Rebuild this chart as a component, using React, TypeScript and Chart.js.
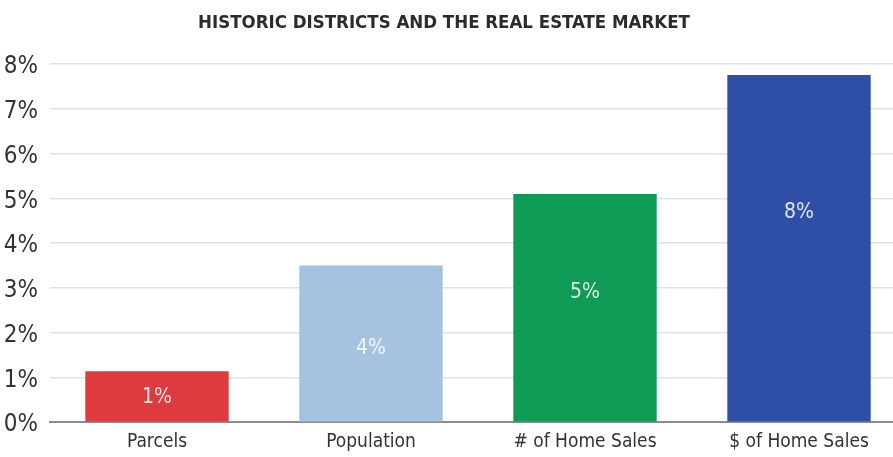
import React, { useEffect, useRef } from "react";
import { Chart, registerables } from "chart.js";

Chart.register(...registerables);

const chartTitle = "HISTORIC DISTRICTS AND THE REAL ESTATE MARKET";
const categories = ["Parcels", "Population", "# of Home Sales", "$ of Home Sales"];
const values = [1.14, 3.5, 5.1, 7.76];
const barColors = ["#de3b3f", "#a5c3e0", "#0f9a55", "#2f4ea5"];
// vertical position (in % units) where each bar's value label sits
const labelPositions = [0.54, 1.64, 2.89, 4.69];
const yMin = 0;
const yMax = 8;
const yStep = 1;

const FONT = "'DejaVu Sans Condensed', 'Liberation Sans Narrow', sans-serif";

const barLabelPlugin = {
  id: "barLabels",
  afterDatasetsDraw(chart: any) {
    const ctx = chart.ctx;
    const meta = chart.getDatasetMeta(0);
    const yScale = chart.scales.y;
    ctx.save();
    ctx.font = `21px ${FONT}`;
    ctx.fillStyle = "rgba(255,255,255,0.85)";
    ctx.textAlign = "center";
    ctx.textBaseline = "middle";
    meta.data.forEach((bar: any, i: number) => {
      const y = yScale.getPixelForValue(labelPositions[i]);
      ctx.fillText(Math.round(values[i]) + "%", bar.x, y);
    });
    ctx.restore();
  },
};

export default function App() {
  const canvasRef = useRef<HTMLCanvasElement | null>(null);

  useEffect(() => {
    document.body.style.margin = "0";
    const canvas = canvasRef.current;
    if (!canvas) return;
    const chart = new Chart(canvas, {
      type: "bar",
      data: {
        labels: categories,
        datasets: [
          {
            data: values,
            backgroundColor: barColors,
            borderWidth: 0,
            barPercentage: 0.67,
            categoryPercentage: 1,
          },
        ],
      },
      options: {
        responsive: false,
        animation: false,
        layout: { padding: { left: 0, right: 0, top: 0, bottom: 5 } },
        plugins: {
          legend: { display: false },
          tooltip: { enabled: false },
          title: {
            display: true,
            text: chartTitle,
            color: "#2b2b2b",
            font: { family: FONT, size: 18.5, weight: "bold" },
            padding: { top: 12, bottom: 30 },
          },
        },
        scales: {
          x: {
            grid: { display: false, drawTicks: false },
            border: { display: true, color: "#8c8c8c", width: 2 },
            ticks: {
              color: "#333333",
              font: { family: FONT, size: 19 },
              padding: 8,
              maxRotation: 0,
              autoSkip: false,
            },
          },
          y: {
            min: yMin,
            max: yMax,
            afterFit: (scale: any) => {
              scale.width = 68;
            },
            grid: { color: "#e2e2e2", lineWidth: 1.5, drawTicks: false },
            border: { display: false },
            ticks: {
              stepSize: yStep,
              color: "#333333",
              font: { family: FONT, size: 24 },
              padding: 12,
              labelOffset: 3,
              callback: (v: any) => v + "%",
            },
          },
        },
      },
      plugins: [barLabelPlugin],
    });
    return () => chart.destroy();
  }, []);

  return (
    <div style={{ position: "relative", width: 893, height: 457, overflow: "hidden", background: "#fff" }}>
      <canvas
        ref={canvasRef}
        width={924}
        height={466}
        style={{ position: "absolute", left: -18, top: 0, width: 924, height: 466 }}
      />
    </div>
  );
}
